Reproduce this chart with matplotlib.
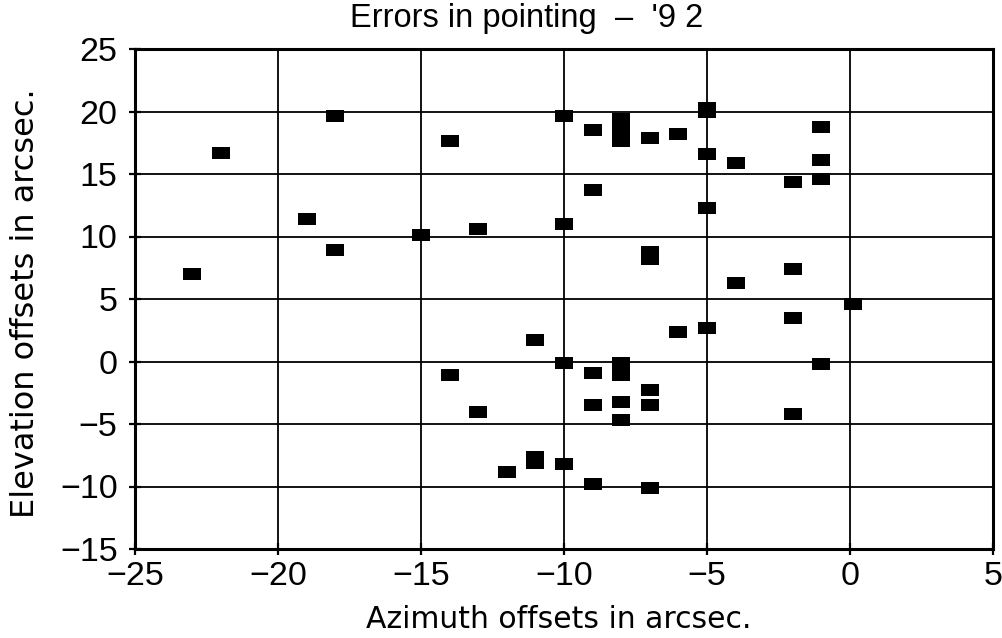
import numpy as np
import matplotlib
matplotlib.use("Agg")
import matplotlib.pyplot as plt

# pointing offsets, arcsec (azimuth, elevation)
azimuth = [-23, -22, -19, -18, -18, -15, -14, -14, -13, -13,
           -12, -11, -11, -11, -10, -10, -10, -10, -9, -9,
           -9, -9, -9, -8, -8, -8, -8, -8, -8, -8,
           -7, -7, -7, -7, -7, -7, -6, -6, -5, -5,
           -5, -5, -5, -4, -4, -2, -2, -2, -2, -1,
           -1, -1, -1, 0.1]
elevation = [7.0, 16.7, 11.4, 19.6, 8.9, 10.1, 17.6, -1.1, 10.6, -4.0,
             -8.8, 1.7, -7.6, -8.1, 19.6, 11.0, -0.1, -8.2, 18.5, 13.7,
             -0.9, -3.5, -9.8, 19.4, 18.5, 17.6, -0.1, -1.1, -3.2, -4.7,
             17.9, 8.8, 8.2, -2.3, -3.5, -10.1, 18.2, 2.4, 20.3, 20.0,
             16.6, 12.3, 2.7, 15.9, 6.3, 14.4, 7.4, 3.5, -4.2, 18.8,
             16.1, 14.6, -0.2, 4.6]

xticks = [-25, -20, -15, -10, -5, 0, 5]
yticks = [-15, -10, -5, 0, 5, 10, 15, 20, 25]

fig = plt.figure(figsize=(10.02, 6.38), dpi=100)
ax = fig.add_axes([135 / 1002, 1 - 549 / 638, 858 / 1002, 500 / 638])

# flat rectangular marker, 3:2
box = [(-1.5, -1), (1.5, -1), (1.5, 1), (-1.5, 1), (-1.5, -1)]
ax.plot(azimuth, elevation, ls="none", marker=box, ms=12.9,
        mfc="black", mec="black", mew=0, zorder=3)

ax.set_xlim(-25, 5)
ax.set_ylim(-15, 25)
ax.set_xticks(xticks)
ax.set_yticks(yticks)
ax.set_xticklabels([str(t).replace("-", "\u2212") for t in xticks])
ax.set_yticklabels([str(t).replace("-", "\u2212") for t in yticks])
ax.grid(True, color="black", lw=1.3)
ax.set_axisbelow(True)
for s in ax.spines.values():
    s.set_linewidth(2.2)
ax.tick_params(direction="inout", length=9, width=1.6, labelsize=24.5,
               colors="black")
ax.tick_params(axis="y", pad=8)
ax.tick_params(axis="x", pad=4)
for lab in ax.get_xticklabels() + ax.get_yticklabels():
    lab.set_fontfamily("Liberation Sans")

fig.text(527 / 1002, 1 - 18 / 638, "Errors in pointing  \u2013  '9 2",
         ha="center", va="center", fontsize=23.5, family="Liberation Sans")
fig.text(559 / 1002, 1 - 619 / 638, "Azimuth offsets in arcsec.",
         ha="center", va="center", fontsize=21.5, family="DejaVu Sans")
fig.text(26 / 1002, 1 - 303 / 638, "Elevation offsets in arcsec.",
         ha="center", va="center", rotation=90, fontsize=23,
         family="DejaVu Sans")

fig.savefig("out.png", dpi=100)
